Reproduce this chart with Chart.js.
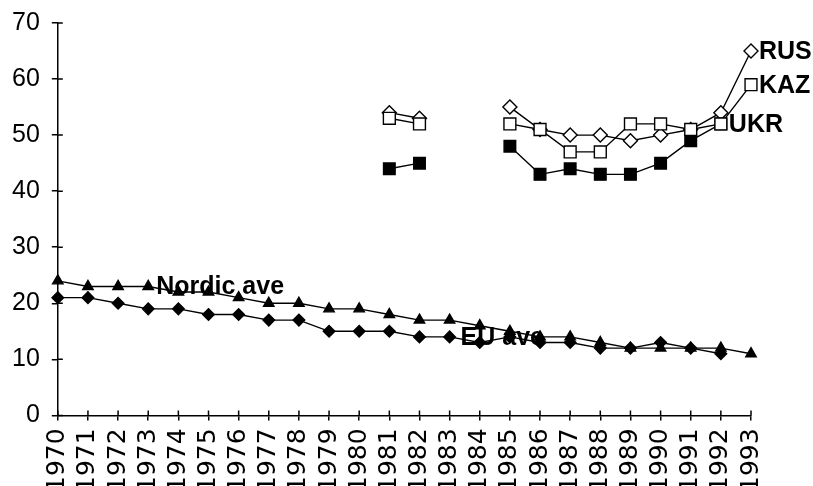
<!DOCTYPE html>
<html>
<head>
<meta charset="utf-8">
<script src="https://cdn.jsdelivr.net/npm/chart.js@4/dist/chart.umd.min.js"></script>
<style>
  html, body { margin: 0; padding: 0; background: #fff; overflow: hidden; }
  #wrap { position: relative; width: 813px; height: 504px; margin-top: -4px; }
</style>
</head>
<body>
<div id="wrap"><canvas id="c"></canvas></div>
<script>
const years = ['1970','1971','1972','1973','1974','1975','1976','1977','1978','1979','1980','1981','1982','1983','1984','1985','1986','1987','1988','1989','1990','1991','1992','1993'];
const yTicks = [0, 10, 20, 30, 40, 50, 60, 70];
const nordicAve = [24,23,23,23,22,22,21,20,20,19,19,18,17,17,16,15,14,14,13,12,12,12,12,11];
const euAve     = [21,21,20,19,19,18,18,17,17,15,15,15,14,14,13,14,13,13,12,12,13,12,11,null];
const rus = [null,null,null,null,null,null,null,null,null,null,null,54,53,null,null,55,51,50,50,49,50,51,54,65];
const kaz = [null,null,null,null,null,null,null,null,null,null,null,53,52,null,null,52,51,47,47,52,52,51,52,59];
const ukr = [null,null,null,null,null,null,null,null,null,null,null,44,45,null,null,48,43,44,43,43,45,49,52,null];
// series labels: text and the category index they are attached to
const seriesLabels = ['KAZ', 'UKR', 'RUS', 'Nordic ave', 'EU ave'];
const labelAt = ['1993', '1992', '1993', '1973', '1983'];

const base = {
  borderColor: '#000',
  borderWidth: 1.4,
  pointBorderColor: '#000',
  pointBorderWidth: 1.4,
  spanGaps: false,
  tension: 0,
  fill: false
};

const datasets = [
  Object.assign({}, base, { label: seriesLabels[0], data: kaz, pointStyle: 'rect', pointRadius: 8.4, pointBackgroundColor: '#fff' }),
  Object.assign({}, base, { label: seriesLabels[1], data: ukr, pointStyle: 'rect', pointRadius: 8.2, pointBackgroundColor: '#000' }),
  Object.assign({}, base, { label: seriesLabels[2], data: rus, pointStyle: 'rectRot', pointRadius: 7, pointBackgroundColor: '#fff' }),
  Object.assign({}, base, { label: seriesLabels[3], data: nordicAve, pointStyle: 'triangle', pointRadius: 6, pointBackgroundColor: '#000' }),
  Object.assign({}, base, { label: seriesLabels[4], data: euAve, pointStyle: 'rectRot', pointRadius: 5.8, pointBackgroundColor: '#000' })
];

const innerTicks = {
  id: 'innerTicks',
  beforeDatasetsDraw(chart) {
    const ctx = chart.ctx, x = chart.scales.x, y = chart.scales.y;
    ctx.save();
    ctx.strokeStyle = '#000';
    ctx.lineWidth = 1.5;
    ctx.beginPath();
    x.ticks.forEach((t, i) => {
      const px = x.getPixelForTick(i);
      ctx.moveTo(px, y.bottom);
      ctx.lineTo(px, y.bottom - 5);
    });
    y.ticks.forEach((t, i) => {
      const py = y.getPixelForTick(i);
      ctx.moveTo(x.left, py);
      ctx.lineTo(x.left + 5, py);
    });
    ctx.stroke();
    ctx.restore();
  }
};

const seriesText = {
  id: 'seriesText',
  afterDatasetsDraw(chart) {
    const ctx = chart.ctx;
    ctx.save();
    ctx.fillStyle = '#000';
    ctx.font = 'bold 25px "Liberation Sans", Arial, sans-serif';
    ctx.textBaseline = 'middle';
    ctx.textAlign = 'left';
    chart.data.datasets.forEach((ds, di) => {
      const idx = years.indexOf(labelAt[di]);
      const pt = chart.getDatasetMeta(di).data[idx];
      if (!pt) return;
      const off = ds.label === 'EU ave' ? 11 : 8;
      ctx.fillText(ds.label, pt.x + off, pt.y + 1);
    });
    ctx.restore();
  }
};

new Chart(document.getElementById('c'), {
  type: 'line',
  data: { labels: years, datasets: datasets },
  options: {
    responsive: true,
    maintainAspectRatio: false,
    animation: false,
    events: [],
    layout: { padding: { top: 2, right: 62, left: 0, bottom: 0 } },
    plugins: { legend: { display: false }, tooltip: { enabled: false } },
    scales: {
      x: {
        offset: false,
        border: { display: true, color: '#000', width: 1.5 },
        grid: { display: true, drawOnChartArea: false, drawTicks: true, tickLength: 5, color: '#000', lineWidth: 1.5 },
        ticks: {
          autoSkip: false,
          maxRotation: 90,
          minRotation: 90,
          padding: 8,
          color: '#000',
          font: { family: '"DejaVu Sans", sans-serif', size: 25 }
        }
      },
      y: {
        min: 0,
        max: 70,
        afterBuildTicks(scale) { scale.ticks = yTicks.map(v => ({ value: v })); },
        border: { display: true, color: '#000', width: 1.5 },
        grid: { display: true, drawOnChartArea: false, drawTicks: true, tickLength: 6, color: '#000', lineWidth: 1.5 },
        ticks: {
          padding: 12,
          color: '#000',
          font: { family: '"Liberation Sans", Arial, sans-serif', size: 25 }
        }
      }
    }
  },
  plugins: [innerTicks, seriesText]
});
</script>
</body>
</html>
